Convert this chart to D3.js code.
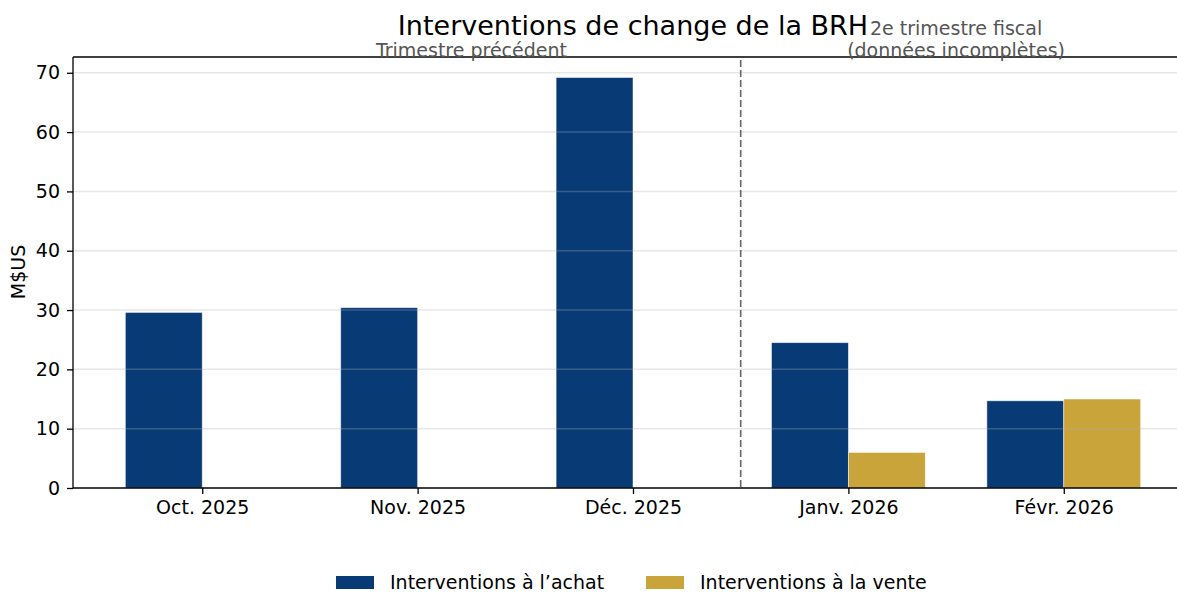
<!DOCTYPE html>
<html><head><meta charset="utf-8">
<script src="https://cdn.jsdelivr.net/npm/d3@7"></script>
<style>body{margin:0;background:#fff}svg{display:block;font-family:"DejaVu Sans",sans-serif}</style>
</head><body><svg id="c" width="1177" height="592"></svg>
<script>
const categories = ["Oct. 2025","Nov. 2025","Déc. 2025","Janv. 2026","Févr. 2026"];
const achat = [29.6, 30.4, 69.2, 24.5, 14.7];
const vente = [0, 0, 0, 6.0, 15.0];
const seriesNames = ["Interventions à l’achat","Interventions à la vente"];
const yTicks = [0,10,20,30,40,50,60,70];
const colors = ["#083a76","#c8a43b"];

const svg = d3.select("#c");
const L = 73, R = 1193, T = 57, B = 488;
const x = d3.scaleLinear().domain([-0.6, 4.6]).range([L, R]);
const y = d3.scaleLinear().domain([0, 72.66]).range([B, T]);
const bw = 0.357;

// bars
const g = svg.append("g");
g.selectAll("rect.a").data(achat).join("rect")
  .attr("x",(d,i)=>x(i-bw)).attr("width",x(bw)-x(0))
  .attr("y",d=>y(d)).attr("height",d=>y(0)-y(d))
  .attr("fill",colors[0]).attr("stroke","rgba(255,255,255,0.6)").attr("stroke-width",0.8);
g.selectAll("rect.v").data(vente).join("rect")
  .attr("x",(d,i)=>x(i)).attr("width",x(bw)-x(0))
  .attr("y",d=>y(d)).attr("height",d=>y(0)-y(d))
  .attr("fill",colors[1]).attr("stroke","rgba(255,255,255,0.6)").attr("stroke-width",0.8)
  .style("display",d=>d>0?null:"none");

// grid
svg.append("g").selectAll("line").data(yTicks.filter(d=>d>0)).join("line")
  .attr("x1",L).attr("x2",R).attr("y1",d=>y(d)).attr("y2",d=>y(d))
  .attr("stroke","#b0b0b0").attr("stroke-opacity",0.3).attr("stroke-width",1.5);

// separator
svg.append("line").attr("x1",x(2.5)).attr("x2",x(2.5)).attr("y1",T+3).attr("y2",B)
  .attr("stroke","#666").attr("stroke-width",1.6).attr("stroke-dasharray","7,3");

// axes
const ya = svg.append("g").attr("transform",`translate(${L},0)`)
  .call(d3.axisLeft(y).tickValues(yTicks).tickSize(6).tickPadding(7));
const xa = svg.append("g").attr("transform",`translate(0,${B})`)
  .call(d3.axisBottom(x).tickValues(d3.range(categories.length)).tickFormat(i=>categories[i]).tickSize(6).tickPadding(7));
[ya,xa].forEach(a=>{a.select(".domain").remove();
  a.selectAll("text").attr("font-size",19).attr("fill","#000").attr("font-family","DejaVu Sans");
  a.selectAll("line").attr("stroke","#000").attr("stroke-width",1.3);});

// spines
const sp = svg.append("g").attr("stroke","#000").attr("stroke-width",1.3).attr("fill","none");
sp.append("line").attr("x1",L).attr("x2",L).attr("y1",T).attr("y2",B);
sp.append("line").attr("x1",L).attr("x2",R).attr("y1",B).attr("y2",B);
sp.append("line").attr("x1",L).attr("x2",R).attr("y1",T).attr("y2",T);
sp.append("line").attr("x1",R).attr("x2",R).attr("y1",T).attr("y2",B);

// title
svg.append("text").attr("x",(L+R)/2).attr("y",35).attr("text-anchor","middle")
  .attr("font-size",27).attr("fill","#000").text("Interventions de change de la BRH");
// annotations
svg.append("text").attr("x",x(1.25)).attr("y",57).attr("text-anchor","middle")
  .attr("font-size",19).attr("fill","#555").text("Trimestre précédent");
const an = svg.append("text").attr("x",x(3.5)).attr("text-anchor","middle")
  .attr("font-size",19).attr("fill","#555");
an.append("tspan").attr("x",x(3.5)).attr("y",35).text("2e trimestre fiscal");
an.append("tspan").attr("x",x(3.5)).attr("y",57).text("(données incomplètes)");

// y label
svg.append("text").attr("transform","translate(25,272) rotate(-90)").attr("text-anchor","middle")
  .attr("font-size",19).attr("fill","#000").text("M$US");

// legend
const lg = svg.append("g");
const lx = [336, 646];
seriesNames.forEach((n,i)=>{
  lg.append("rect").attr("x",lx[i]).attr("y",576).attr("width",38).attr("height",13).attr("fill",colors[i]);
  lg.append("text").attr("x",lx[i]+54).attr("y",589).attr("font-size",19).attr("fill","#000").text(n);
});
</script></body></html>
